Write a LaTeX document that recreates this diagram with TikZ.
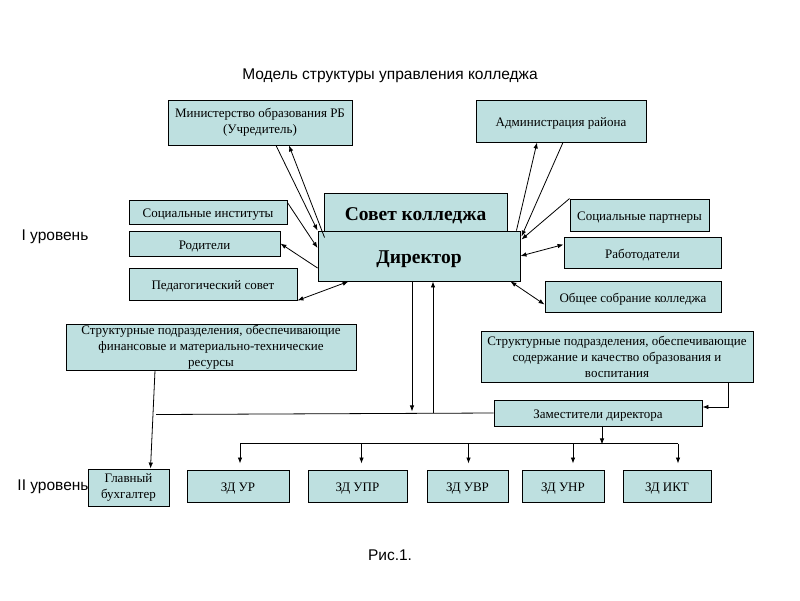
\documentclass[tikz,border=0pt]{standalone}
\usepackage{fontspec}
\setmainfont{Liberation Serif}
\newfontfamily\arialfont{Liberation Sans}
\usetikzlibrary{arrows.meta,calc}
\definecolor{boxfill}{RGB}{190,224,224}

\begin{document}
\begin{tikzpicture}[x=1pt,y=-1pt,
    box/.style={draw,fill=boxfill,line width=0.9pt,inner sep=1pt,align=center,font=\fontsize{13}{16}\selectfont},
    onebox/.style={box,text height=12pt,text depth=1pt},
    boldbox/.style={box,text height=17.5pt,text depth=2pt,font=\bfseries\fontsize{19.5}{20}\selectfont},
    arr/.style={-{Latex[length=6pt,width=4.5pt]},line width=0.8pt},
    dbl/.style={{Latex[length=6pt,width=4.5pt]}-{Latex[length=6pt,width=4.5pt]},line width=0.8pt},
    lbl/.style={font=\arialfont\fontsize{15.5}{17}\selectfont}]
\useasboundingbox (0,0) rectangle (800,600);
\node[lbl] (title) at (390,76) {Модель структуры управления колледжа};
\node[lbl] (lev1) at (55,237) {I уровень};
\node[lbl] (lev2) at (53,487) {II уровень};
\node[lbl] (fig) at (390,555) {Рис.1.};

\node[box,minimum width=184pt,minimum height=45pt] (min) at (260,122.5) {Министерство образования РБ\\(Учредитель)};
\node[onebox,minimum width=170pt,minimum height=42pt] (adm) at (561,121) {Администрация района};
\node[boldbox,minimum width=183pt,minimum height=40pt] (sovet) at (415.5,213) {Совет колледжа};
\node[boldbox,minimum width=202pt,minimum height=50pt] (dir) at (419,256) {Директор};
\node[onebox,minimum width=158pt,minimum height=24pt] (socinst) at (208,212) {Социальные институты};
\node[onebox,minimum width=151pt,minimum height=25pt] (rod) at (204.5,243.5) {Родители};
\node[onebox,minimum width=168pt,minimum height=32pt] (ped) at (213,284) {Педагогический совет};
\node[onebox,minimum width=139pt,minimum height=32pt] (socpart) at (639.5,215) {Социальные партнеры};
\node[onebox,minimum width=157pt,minimum height=31pt] (rab) at (642.5,252.5) {Работодатели};
\node[onebox,minimum width=176pt,minimum height=31pt] (obsh) at (633,296.5) {Общее собрание колледжа};
\node[box,minimum width=290pt,minimum height=44pt] (strfin) at (211,347) {Структурные подразделения, обеспечивающие\\финансовые и материально-технические\\ресурсы};
\node[box,minimum width=272pt,minimum height=51pt] (strsod) at (617,356.5) {Структурные подразделения, обеспечивающие\\содержание и качество образования и\\воспитания};
\node[onebox,minimum width=208pt,minimum height=26pt] (zam) at (598,413) {Заместители директора};
\node[box,minimum width=81pt,minimum height=37pt] (glbuh) at (128.5,487.5) {Главный\\бухгалтер};
\node[onebox,minimum width=102pt,minimum height=32pt] (zd1) at (238,486) {ЗД УР};
\node[onebox,minimum width=99pt,minimum height=32pt] (zd2) at (357.5,486) {ЗД УПР};
\node[onebox,minimum width=81pt,minimum height=32pt] (zd3) at (467.5,486) {ЗД УВР};
\node[onebox,minimum width=82pt,minimum height=32pt] (zd4) at (563,486) {ЗД УНР};
\node[onebox,minimum width=88pt,minimum height=32pt] (zd5) at (667,486) {ЗД ИКТ};

\draw[arr] ([xshift=16pt]min.south) -- (dir.north west);
\draw[arr] ($(dir.north west)+(7,7)$) -- ([xshift=29pt]min.south);
\draw[arr] ($(socinst.north east)+(0,3)$) -- ($(dir.west)+(0,-8)$);
\draw[arr] ($(dir.west)+(0,12)$) -- (rod.east);
\draw[dbl] (ped.south east) -- ([xshift=31pt]dir.south west);
\draw[arr] ([xshift=-4pt]dir.north east) -- ([xshift=-24pt]adm.south);
\draw[arr] ([xshift=2pt]adm.south) -- ($(dir.north east)+(1,6)$);
\draw[arr] (socpart.north west) -- ($(dir.north east)+(1,9)$);
\draw[dbl] ($(rab.west)+(0,-8)$) -- (dir.east);
\draw[dbl] ([xshift=-10pt]dir.south east) -- ($(obsh.west)+(0,8)$);

\draw[arr] ([xshift=-7pt]dir.south) -- ++(0,130);
\draw[arr] ($(dir.south)+(14,132)$) -- ([xshift=14pt]dir.south);
\draw[line width=0.8pt] ($(strfin.south)+(-55,44)$) -- (zam.west);
\draw[arr] ([xshift=-56pt]strfin.south) -- ([xshift=22pt]glbuh.north);
\draw[arr] ([xshift=111pt]strsod.south) |- ([yshift=6pt]zam.east);
\draw[arr] ([xshift=4pt]zam.south) -- ++(0,18);
\draw[line width=0.8pt] ($(zd1.north)+(2,-26)$) -- ($(zd5.north)+(11,-26)$);
\foreach \n/\s in {zd1/2,zd2/4,zd3/1,zd4/10,zd5/11}
    \draw[arr,shorten >=6pt] ($(\n.north)+(\s,-26)$) -- ($(\n.north)+(\s,0)$);
\end{tikzpicture}
\end{document}
